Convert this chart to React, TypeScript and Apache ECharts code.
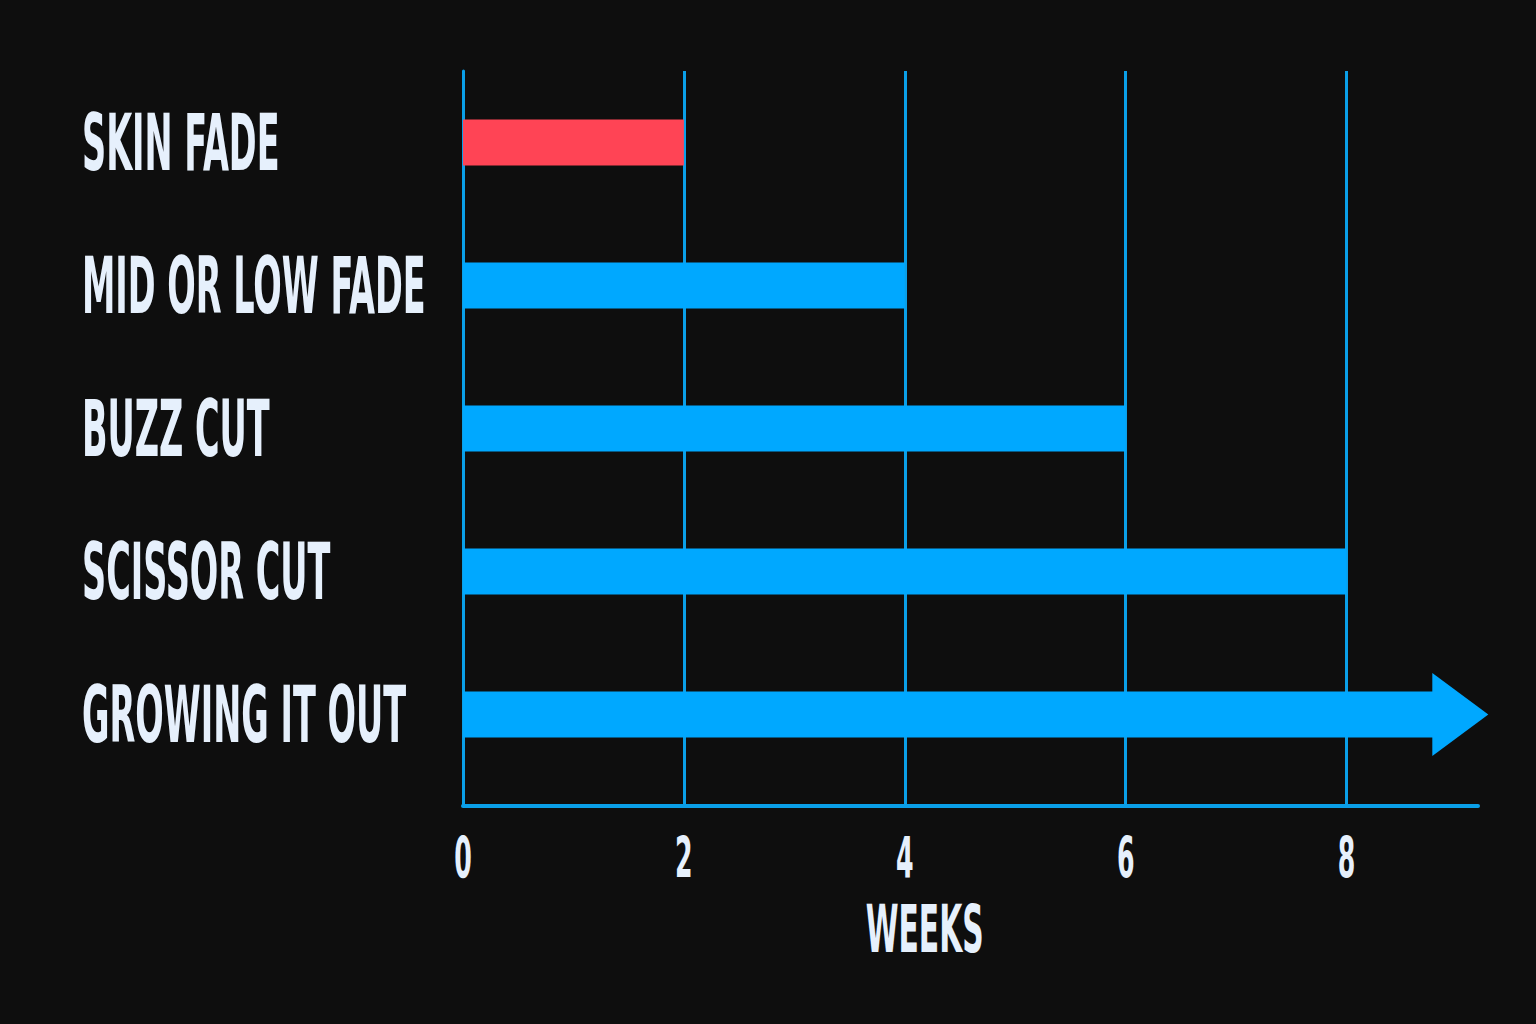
import React, { useEffect, useRef } from 'react';
import * as echarts from 'echarts';

// datos
const hairstyles = ['SKIN FADE', 'MID OR LOW FADE', 'BUZZ CUT', 'SCISSOR CUT', 'GROWING IT OUT'];
const weeks = [2, 4, 6, 8, 8.8];
const barColors = ['#ff4455', '#00a8ff', '#00a8ff', '#00a8ff', '#00a8ff'];
const weekTicks = [0, 2, 4, 6, 8];
const arrowTip = 9.03; // centro de la punta de flecha de "GROWING IT OUT"
const axisMax = 9.19;

const LINE = '#0a9fe8';
const TEXT = '#e6f0fc';
const FONT = '"DejaVu Sans Condensed", "Liberation Sans", sans-serif';

const App: React.FC = () => {
    const chartRef = useRef<HTMLDivElement>(null);

    useEffect(() => {
        if (!chartRef.current) return;
        const chart = echarts.init(chartRef.current, null, { renderer: 'svg' });

        const option = {
            animation: false,
            backgroundColor: '#0e0e0e',
            grid: { left: 463, right: 58, top: 71, height: 715 },
            xAxis: {
                type: 'value',
                min: 0,
                max: axisMax,
                interval: 2,
                offset: 20,
                axisLine: { show: true, lineStyle: { color: LINE, width: 4 } },
                axisTick: { show: true, inside: true, length: 20, customValues: weekTicks, lineStyle: { color: LINE, width: 3 } },
                axisLabel: { show: false },
                splitLine: { show: true, lineStyle: { color: LINE, width: 3 } },
            },
            yAxis: {
                type: 'category',
                inverse: true,
                data: hairstyles,
                axisLine: { show: true, lineStyle: { color: LINE, width: 3 } },
                axisTick: { show: false },
                axisLabel: { show: false },
                splitLine: { show: false },
            },
            series: [
                {
                    type: 'bar',
                    barWidth: 46,
                    data: weeks.map((v, i) => ({ value: v, itemStyle: { color: barColors[i] } })),
                },
                {
                    type: 'scatter',
                    clip: false,
                    symbol: 'triangle',
                    symbolRotate: -90,
                    symbolSize: [83, 56],
                    itemStyle: { color: '#00a8ff', opacity: 1 },
                    data: [[arrowTip, hairstyles[hairstyles.length - 1]]],
                },
            ],
        };

        chart.setOption(option);

        // textos altos y estrechos, colocados con las escalas del grafico
        const labelText = (text: string, x: number, y: number, size: number, align: string, scaleX: number, scaleY: number) => ({
            type: 'text',
            x,
            y,
            scaleX,
            scaleY,
            silent: true,
            style: {
                text,
                fill: TEXT,
                font: `bold ${size}px ${FONT}`,
                align,
                verticalAlign: 'middle',
                textAlign: align,
                textVerticalAlign: 'middle',
            },
        });

        const graphics: any[] = [];
        hairstyles.forEach((name) => {
            const y = chart.convertToPixel({ yAxisIndex: 0 }, name) as number;
            graphics.push(labelText(name, 82, y + 1, 46, 'left', 0.81, 1.72));
        });
        weekTicks.forEach((w) => {
            const x = chart.convertToPixel({ xAxisIndex: 0 }, w) as number;
            graphics.push(labelText(String(w), x, 858, 33, 'center', 0.85, 1.7));
        });
        const nameX = chart.convertToPixel({ xAxisIndex: 0 }, 4.18) as number;
        graphics.push(labelText('WEEKS', nameX, 929, 38, 'center', 0.87, 1.75));

        chart.setOption({ graphic: graphics });

        return () => {
            chart.dispose();
        };
    }, []);

    return (
        <div
            ref={chartRef}
            style={{ position: 'fixed', left: 0, top: 0, width: '1536px', height: '1024px' }}
        />
    );
};

export default App;
